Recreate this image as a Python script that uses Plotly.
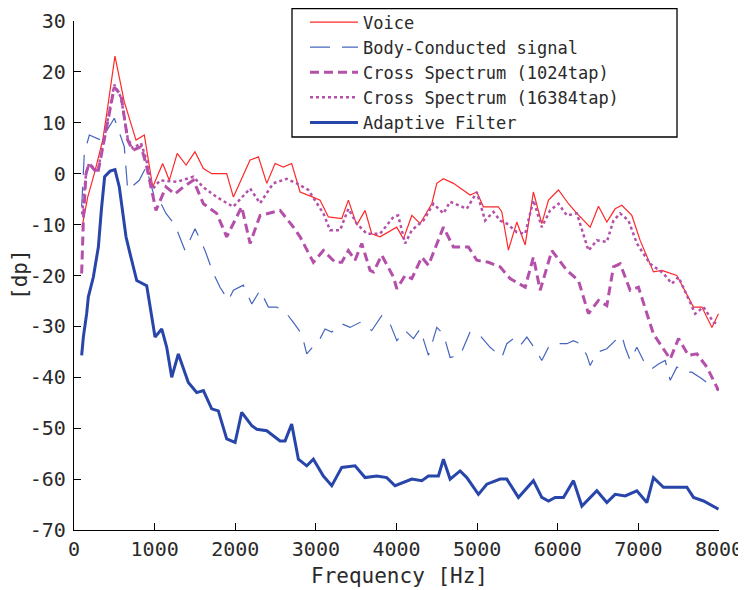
import plotly.graph_objects as go

# ---- data ----
voice_f = [100, 170, 252, 356, 418, 508, 624, 769, 872, 976, 1100, 1182, 1280, 1390, 1500, 1605, 1708,
           1894, 1977, 2184, 2287, 2391, 2494, 2597, 2700, 2804, 2950, 3052, 3155, 3321, 3403, 3507, 3610, 3693,
           3796, 4003, 4086, 4190, 4293, 4438, 4500, 4582, 4706, 4913, 4996, 5078, 5264, 5306, 5388, 5450, 5492,
           5596, 5698, 5802, 5885, 6009, 6133, 6237, 6402, 6505, 6609, 6712, 6795, 6919, 7022, 7187, 7291, 7477,
           7684, 7788, 7912, 7994]
voice_v = [-10.5, -4.6, 0, 6.6, 13.1, 23.1, 14.1, 6.6, 7.6, -2.6, 2, -1.3, 4, 1.7, 4.3, 1, 0,
           0, -4.6, 2.7, 3.3, -1.9, 2, 1.3, 2, -3.6, -4.5, -5.2, -8.5, -8.8, -5.2, -10.1, -7.2, -11.8,
           -12.4, -10.5, -12.8, -8.2, -9.8, -5.9, -1.9, -1, -1.9, -4.2, -3.6, -6.5, -6.5, -7.5, -15, -11.8, -9.5,
           -14, -3.6, -9.8, -5.2, -3.2, -5.9, -7.8, -10.5, -6.4, -9.5, -6.9, -6.2, -8.2, -13.1, -19.3, -19, -20,
           -26.2, -26.2, -30.2, -27.5]

body_f = [95, 128, 190, 335, 500, 562, 624, 666, 810, 893, 1005, 1080, 1141, 1253, 1377, 1501, 1625, 1729,
          1811, 1914, 1977, 2101, 2205, 2308, 2411, 2515, 2638, 2721, 2825, 2887, 3052, 3114, 3197, 3321, 3424,
          3548, 3693, 3817, 3920, 4004, 4107, 4210, 4293, 4396, 4500, 4582, 4665, 4789, 4913, 5037, 5161, 5306,
          5368, 5450, 5533, 5617, 5719, 5802, 5885, 5968, 6113, 6195, 6278, 6361, 6402, 6485, 6609, 6712, 6795,
          6836, 6898, 6981, 7084, 7167, 7250, 7333, 7395, 7477, 7601, 7663, 7788, 7932, 7994]
body_v = [-6.5, 4, 7.6, 6.6, 10.9, 8.2, 5.3, -3.2, -1.3, 1.3, -5, -5.9, -7.8, -10.1, -15.1, -10.8, -15.1, -19.6,
          -22.3, -24.9, -22.9, -21.9, -25.6, -22.9, -26.2, -26.2, -27.5, -29.2, -31.5, -35.4, -32.4, -30.5, -31.1, -29.5, -30.2,
          -29.2, -30.8, -27.9, -29.5, -32.8, -30.8, -32.4, -30.5, -35.7, -30.2, -31.5, -36.1, -35.7, -31.1, -31.8, -34.1, -36.1,
          -33.4, -32.4, -33.8, -32.1, -34.4, -36.7, -34.1, -33.4, -33.4, -32.8, -33.4, -35.7, -37.7, -35.1, -34.4, -32.8, -31.8,
          -34.1, -36.7, -34.1, -37.4, -38.3, -37.4, -36.7, -40.6, -38, -39, -39, -40.3, -42, -42.6]

cs1024_f = [95, 116, 149, 186, 294, 376, 500, 583, 666, 728, 831, 893, 976, 1017, 1141, 1250, 1356, 1480, 1605,
            1770, 1894, 1977, 2080, 2184, 2308, 2556, 2721, 2804, 2969, 3093, 3238, 3321, 3403, 3486, 3569, 3672,
            3714, 3817, 3962, 4004, 4107, 4190, 4314, 4396, 4582, 4706, 4892, 4996, 5140, 5285, 5409, 5596, 5698,
            5782, 5927, 6113, 6257, 6381, 6505, 6609, 6691, 6774, 6898, 7001, 7187, 7395, 7498, 7622, 7726, 7850,
            7994]
cs1024_v = [-19.6, -9.2, 0, 2, 0, 6.6, 17, 15.5, 6.6, 4.6, 5.3, 2, -3.9, -7.2, -2.6, -4, -2.6, -1.3, -5.9,
            -7.8, -12.4, -9.8, -6.5, -13.7, -8.2, -7.2, -10.5, -12.4, -17.4, -15.1, -17.4, -17.4, -15.1, -17, -13.7, -19,
            -19.3, -16, -20.3, -22.6, -20, -20.6, -16.4, -18, -10.5, -14.4, -14.4, -17, -17.4, -18.3, -20.6, -22.3, -16.4,
            -22.9, -15.1, -19, -21, -27.5, -24.9, -25.9, -18.3, -17.7, -22.9, -22.3, -31.5, -36.4, -32.4, -35.7, -35.4, -38,
            -42.6]

cs16384_f = [100, 149, 186, 294, 376, 500, 583, 666, 728, 831, 893, 976, 1067, 1274, 1480, 1600, 1770, 1975, 2184,
             2308, 2470, 2638, 2763, 2907, 3093, 3176, 3300, 3403, 3507, 3631, 3796, 3962, 4020, 4107, 4190, 4334,
             4458, 4582, 4665, 4872, 4996, 5099, 5202, 5285, 5368, 5492, 5596, 5698, 5802, 5906, 6009, 6113, 6237,
             6381, 6485, 6609, 6691, 6774, 6877, 6981, 7146, 7311, 7415, 7498, 7705, 7808, 7932, 7994]
cs16384_v = [-8, 0, 2, 0.5, 7, 17.5, 15, 7, 5, 6, 3, -3, -1.3, -1.6, -0.6, -2.6, -4.6, -6.5, -2.9,
             -5.8, -1.9, -1, -1.9, -3.2, -7.8, -11.1, -11.1, -6.9, -9.8, -11.8, -11.8, -8.5, -8.2, -13.7, -11.1, -9.2,
             -5.9, -7.8, -5.5, -6.9, -3.6, -9.2, -7.5, -9.2, -9.8, -11.5, -11.8, -5.2, -10.5, -7.2, -5.9, -8.2, -7.8,
             -15.1, -13.1, -13.4, -9.2, -7.8, -9.2, -13.7, -17.7, -19.6, -21.6, -20.3, -27.5, -26.2, -29.2, -29.5]

adapt_f = [95, 116, 157, 178, 240, 302, 340, 380, 447, 508, 562, 600, 645, 695, 778, 902, 984, 1005, 1088, 1150,
           1212, 1294, 1418, 1522, 1605, 1708, 1790, 1894, 1998, 2080, 2205, 2267, 2391, 2556, 2618, 2700, 2783,
           2887, 2969, 3093, 3197, 3321, 3486, 3610, 3755, 3879, 3982, 4086, 4190, 4314, 4396, 4520, 4582, 4665,
           4789, 4872, 5016, 5120, 5285, 5368, 5512, 5698, 5802, 5885, 5968, 6071, 6195, 6299, 6485, 6609, 6712,
           6836, 6981, 7105, 7187, 7311, 7601, 7684, 7808, 7994]
adapt_v = [-35.7, -32.1, -27.5, -24.2, -20.3, -14.4, -7, -0.6, 0.5, 0.8, -2.6, -7, -12.4, -15.7, -21, -22, -30.2, -32.1, -30.5, -34.1,
           -40, -35.4, -41, -43, -42.6, -46.2, -46.6, -52.1, -52.8, -46.9, -49.5, -50.2, -50.5, -52.5, -52.5, -49.2, -56.1,
           -57.4, -56.1, -59.4, -61.3, -57.7, -57.4, -59.7, -59.4, -59.7, -61.3, -60.7, -60, -60.3, -59.4, -59.4, -56.1, -60,
           -58.4, -59.7, -63, -61, -60, -60, -63.6, -60.3, -63.6, -64.3, -63.6, -63.6, -60.3, -65.3, -62.3, -64.6, -63,
           -63.3, -62.3, -64.6, -59.7, -61.6, -61.6, -63.6, -64.3, -65.9]

x_ticks = [0, 1000, 2000, 3000, 4000, 5000, 6000, 7000, 8000]
y_ticks = [-70, -60, -50, -40, -30, -20, -10, 0, 10, 20, 30]

FONT = "DejaVu Sans Mono"
TXT = "#2a2a2a"

fig = go.Figure()
fig.add_trace(go.Scatter(x=voice_f, y=voice_v, mode="lines", name="Voice",
                         line=dict(color="rgb(255,40,40)", width=1.2)))
fig.add_trace(go.Scatter(x=body_f, y=body_v, mode="lines", name="Body-Conducted signal",
                         line=dict(color="rgb(70,100,190)", width=1.2, dash="20px,12px")))
fig.add_trace(go.Scatter(x=cs1024_f, y=cs1024_v, mode="lines", name="Cross Spectrum (1024tap)",
                         line=dict(color="rgb(180,80,170)", width=3, dash="9px,5px")))
fig.add_trace(go.Scatter(x=cs16384_f, y=cs16384_v, mode="lines", name="Cross Spectrum (16384tap)",
                         line=dict(color="rgb(180,80,170)", width=2.5, dash="dot")))
fig.add_trace(go.Scatter(x=adapt_f, y=adapt_v, mode="lines", name="Adaptive Filter",
                         line=dict(color="rgb(40,70,170)", width=3)))

# the page body has an 8px margin, so the figure is sized/offset to compensate
fig.update_layout(
    width=738, height=582,
    margin=dict(l=66, r=27, t=13, b=60, autoexpand=False),
    paper_bgcolor="white", plot_bgcolor="white",
    font=dict(family=FONT, size=20, color=TXT),
    showlegend=True,
    legend=dict(x=0.3581, y=1.0324, xanchor="left", yanchor="top",
                bgcolor="rgba(0,0,0,0)", borderwidth=0,
                font=dict(family=FONT, size=17, color=TXT), tracegroupgap=0,
                itemwidth=48),
    # frame drawn behind the legend entries
    shapes=[dict(type="rect", xref="paper", yref="paper", x0=0.338, x1=0.9349, y0=0.7721, y1=1.0245,
                 line=dict(color="black", width=1.3), fillcolor="white", layer="above")],
    xaxis=dict(range=[0, 8000], tickvals=x_ticks, ticktext=[str(t) for t in x_ticks],
               showline=True, linecolor="black", linewidth=1.2, ticks="inside", ticklen=7,
               tickcolor="black", showgrid=False, zeroline=False, mirror=False,
               ticklabelstandoff=1, automargin=False),
    yaxis=dict(range=[-70, 30], tickvals=y_ticks, ticktext=[str(t) for t in y_ticks],
               showline=True, linecolor="black", linewidth=1.2, ticks="inside", ticklen=7,
               tickcolor="black", showgrid=False, zeroline=False, mirror=False,
               ticklabelstandoff=3, automargin=False),
    annotations=[
        dict(text="Frequency [Hz]", xref="paper", yref="paper", x=0.504, y=-0.0904,
             xanchor="center", yanchor="middle", showarrow=False,
             font=dict(family=FONT, size=21, color=TXT)),
        dict(text="[dp]", xref="paper", yref="paper", x=-0.0837, y=0.501,
             xanchor="center", yanchor="middle", showarrow=False, textangle=-90,
             font=dict(family=FONT, size=21, color=TXT)),
    ],
)

fig.write_html("out.html")
